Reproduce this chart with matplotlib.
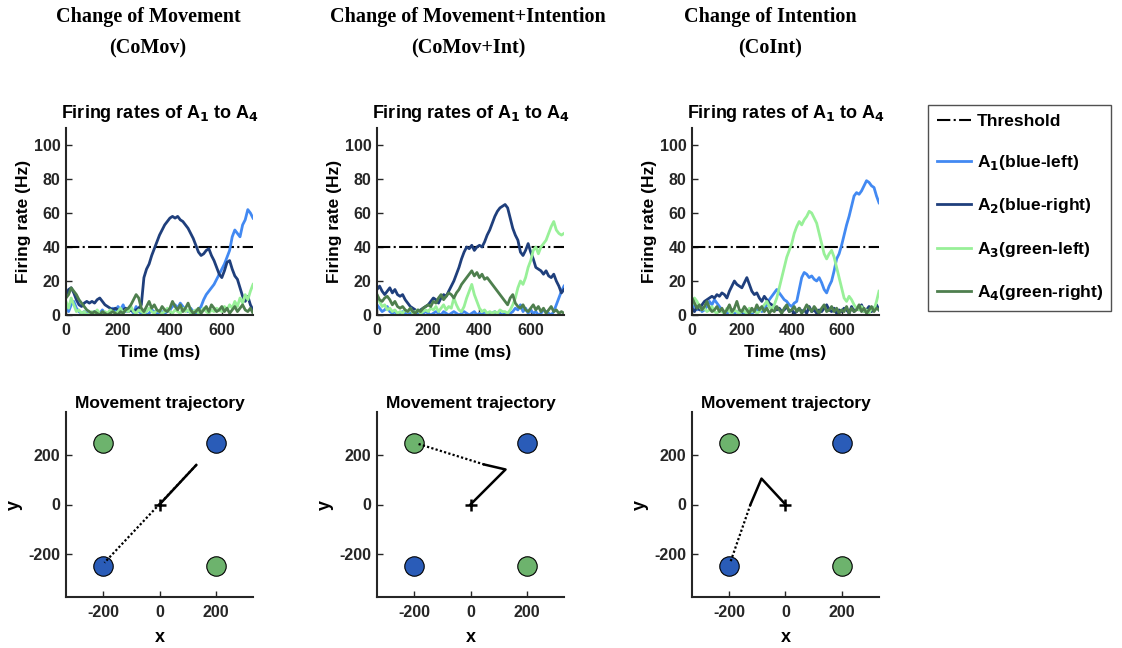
import matplotlib
matplotlib.use('Agg')
import matplotlib.pyplot as plt
import numpy as np

plt.rcParams['font.family'] = ['Liberation Sans', 'DejaVu Sans']
plt.rcParams['font.weight'] = 'bold'
plt.rcParams['axes.titleweight'] = 'bold'
plt.rcParams['axes.labelweight'] = 'bold'
plt.rcParams['axes.unicode_minus'] = False
plt.rcParams['mathtext.default'] = 'bf'

conditions = ['Change of Movement\n(CoMov)',
              'Change of Movement+Intention\n(CoMov+Int)',
              'Change of Intention\n(CoInt)']
labels = ['A$_1$(blue-left)', 'A$_2$(blue-right)', 'A$_3$(green-left)', 'A$_4$(green-right)']
colors = ['#4289f2', '#1f3f7c', '#98f098', '#4e7f4e']
threshold = 40

# firing rates (Hz), one sample every 10 ms
t_end = [720, 730, 750]

comov_a1 = [5,2,6,8,4,2,1,2,1,0, 1,2,0,1,3,1,0,2,4,2, 5,3,6,2,4,3,1,5,2,1, 2,0,1,3,2,1,0,2,1,2,
            3,5,6,4,7,5,3,2,4,2, 1,3,5,9,12,14,16,18,21,24, 27,30,34,38,46,50,48,46,53,56, 62,60,57]
comov_a2 = [12,15,16,13,9,6,5,7,8,7, 8,7,9,10,8,6,5,4,3,4, 3,2,3,4,2,3,2,3,4,6, 22,27,30,35,39,43,47,50,53,55,
            57,58,57,58,56,55,53,51,48,45, 41,37,35,36,38,39,35,32,28,24, 22,26,31,32,27,23,21,16,11,8, 11,6,3]
comov_a3 = [8,4,10,6,2,3,1,2,0,1, 2,1,3,1,0,2,1,3,2,1, 2,4,1,3,2,5,2,1,3,2, 1,2,4,2,1,3,2,1,2,4,
            2,1,3,2,1,4,2,3,1,2, 3,1,2,4,2,1,3,2,4,3, 2,5,3,6,4,8,5,10,7,12, 9,14,18]
comov_a4 = [10,12,16,14,12,9,7,5,3,2, 1,2,1,0,2,1,0,1,2,1, 0,2,1,3,4,6,9,12,10,4, 2,5,8,4,6,3,2,5,3,2,
            4,8,5,3,6,2,4,7,3,1, 2,4,1,3,5,2,6,4,2,3, 5,2,4,1,3,5,2,4,6,3, 2,4,1]

both_a1 = [6,4,2,3,5,2,1,2,0,1, 2,1,0,1,2,0,1,0,1,2, 1,0,1,2,1,0,2,1,0,1, 2,1,0,1,2,1,0,1,2,0,
           1,0,2,1,0,1,2,0,1,0, 1,0,1,2,4,3,6,2,4,1, 3,1,2,0,1,3,2,1,0,2, 6,10,14,17]
both_a2 = [15,17,14,12,14,16,13,15,12,11, 12,9,7,5,4,3,2,3,4,5, 6,8,10,9,7,10,12,11,14,17, 20,24,28,33,37,40,39,41,38,40,
           41,40,43,47,50,54,58,61,63,64, 65,63,57,51,47,44,37,35,38,42, 37,33,28,27,26,24,26,23,22,24, 20,17,13,15]
both_a3 = [12,8,5,6,3,4,2,3,1,2, 1,3,2,4,1,2,3,1,2,3, 2,4,3,5,2,4,6,3,5,4, 10,6,3,2,5,10,14,18,12,8,
           4,2,3,1,2,1,2,1,3,2, 2,1,3,6,10,16,20,18,22,28, 32,38,40,36,40,42,44,48,52,55, 50,48,47,48]
both_a4 = [12,9,8,10,11,9,6,8,5,4, 5,3,2,4,2,1,3,2,4,5, 6,5,8,7,10,12,9,11,13,12, 10,13,15,18,20,22,24,26,23,25,
           22,24,21,22,20,18,16,14,12,10, 8,6,10,12,7,5,4,6,3,2, 4,6,3,5,2,4,1,3,5,2, 3,1,2,1]

coint_a1 = [4,6,3,5,2,3,5,8,6,9, 7,5,3,2,1,2,3,1,2,1, 2,1,2,3,1,2,3,4,2,3, 6,9,11,13,15,13,11,9,8,6,
            5,7,8,15,22,25,24,22,23,21, 20,22,19,15,13,17,20,26,33,36, 41,47,53,58,64,70,72,71,73,76, 79,78,76,75,70,66]
coint_a2 = [4,2,5,3,6,8,9,10,11,10, 12,11,13,12,10,14,17,20,18,17, 16,19,22,18,14,12,13,10,8,11, 9,7,6,5,3,4,2,3,5,2,
            3,1,2,4,2,3,1,5,2,3, 1,3,2,4,6,3,2,4,1,3, 2,4,3,1,5,2,4,3,6,2, 3,5,2,4,6,3]
coint_a3 = [6,10,8,5,3,4,2,3,5,2, 1,3,2,1,4,2,1,3,2,1, 3,2,1,4,2,3,1,2,4,6, 8,5,3,6,10,16,22,28,34,38,
            42,48,52,55,53,56,58,61,60,57, 54,48,42,36,33,36,38,34,28,22, 16,10,8,11,9,6,4,3,5,2, 3,1,4,3,8,14]
coint_a4 = [10,7,4,6,3,5,8,4,2,3, 5,2,4,1,3,6,2,4,8,3, 2,5,3,1,4,2,6,3,5,2, 4,1,3,2,5,3,1,4,6,2,
            3,5,2,4,1,3,6,4,2,5, 3,1,4,6,2,3,5,2,4,1, 3,2,5,1,4,2,3,6,2,4, 1,3,5,2,4,3]

rates = [[comov_a1, comov_a2, comov_a3, comov_a4],
         [both_a1, both_a2, both_a3, both_a4],
         [coint_a1, coint_a2, coint_a3, coint_a4]]

# targets and hand trajectories
target_x = [-200, 200, -200, 200]
target_y = [250, 250, -250, -250]
target_col = ['#6db36d', '#2a5cb8', '#2a5cb8', '#6db36d']

solid_x = [[0, 130], [0, 124, 49], [0, -85, -124]]
solid_y = [[0, 160], [0, 142, 162], [0, 105, 0]]
dotted_x = [[130, -195], [49, -186], [-124, -194]]
dotted_y = [[160, -236], [162, 246], [0, -230]]

W, H = 1122, 648
fig = plt.figure(figsize=(W/100, H/100), dpi=100)

def px_axes(l, t, w, h):
    return fig.add_axes([l/W, (H - t - h)/H, w/W, h/H])

def style(ax):
    for s in ['top', 'right']:
        ax.spines[s].set_visible(False)
    for s in ['left', 'bottom']:
        ax.spines[s].set_color('#262626')
        ax.spines[s].set_linewidth(1.5)
    ax.tick_params(direction='in', length=4, width=1, colors='#262626', labelsize=11.5)
    ax.tick_params(axis='x', pad=6)
    ax.tick_params(axis='y', pad=4)

top_left = [66, 377, 692]
centers = [148, 468, 770]

for i in range(3):
    fig.text(centers[i]/W, 1 - 7/H, conditions[i], ha='center', va='top',
             family='Liberation Serif', fontsize=14.5, weight='bold', linespacing=1.75)

    ax = px_axes(top_left[i], 128, 187, 187)
    ax.plot([0, t_end[i]], [threshold, threshold], color='k', ls='-.', lw=1.5, label='Threshold')
    for k in range(4):
        y = rates[i][k]
        t = np.arange(len(y)) * 10
        ax.plot(t, y, color=colors[k], lw=2, label=labels[k])
    ax.set_xlim(0, t_end[i])
    ax.set_ylim(0, 110)
    ax.set_xticks([0, 200, 400, 600])
    ax.set_yticks([0, 20, 40, 60, 80, 100])
    ax.set_title('Firing rates of A$_1$ to A$_4$', fontsize=13, pad=7)
    ax.set_xlabel('Time (ms)', fontsize=12.5, labelpad=5)
    ax.set_ylabel('Firing rate (Hz)', fontsize=12.5, labelpad=2)
    style(ax)
    if i == 2:
        handles, labs = ax.get_legend_handles_labels()

    bx = px_axes(top_left[i], 412, 187, 185)
    for k in range(4):
        bx.plot(target_x[k], target_y[k], 'o', ms=14, mfc=target_col[k], mec='k', mew=0.8)
    bx.plot(solid_x[i], solid_y[i], color='k', lw=1.8)
    bx.plot(dotted_x[i], dotted_y[i], color='k', lw=1.6, ls=(0, (1, 1)))
    bx.plot(0, 0, '+', color='k', ms=8, mew=1.8)
    bx.set_xlim(-331, 331)
    bx.set_ylim(-375, 375)
    bx.set_xticks([-200, 0, 200])
    bx.set_yticks([-200, 0, 200])
    bx.set_title('Movement trajectory', fontsize=12.5, pad=3)
    bx.set_xlabel('x', fontsize=13, labelpad=6)
    bx.set_ylabel('y', fontsize=13, labelpad=4)
    style(bx)

leg = fig.legend(handles, labs, loc='upper left', bbox_to_anchor=(928/W, 1 - 105/H),
                 fontsize=12.5, frameon=True, fancybox=False, edgecolor='#262626',
                 handlelength=2.0, handletextpad=0.3, labelspacing=1.4, borderpad=0.5,
                 borderaxespad=0)
leg.get_frame().set_linewidth(1.0)

plt.savefig('out.png', dpi=100)
plt.close()
